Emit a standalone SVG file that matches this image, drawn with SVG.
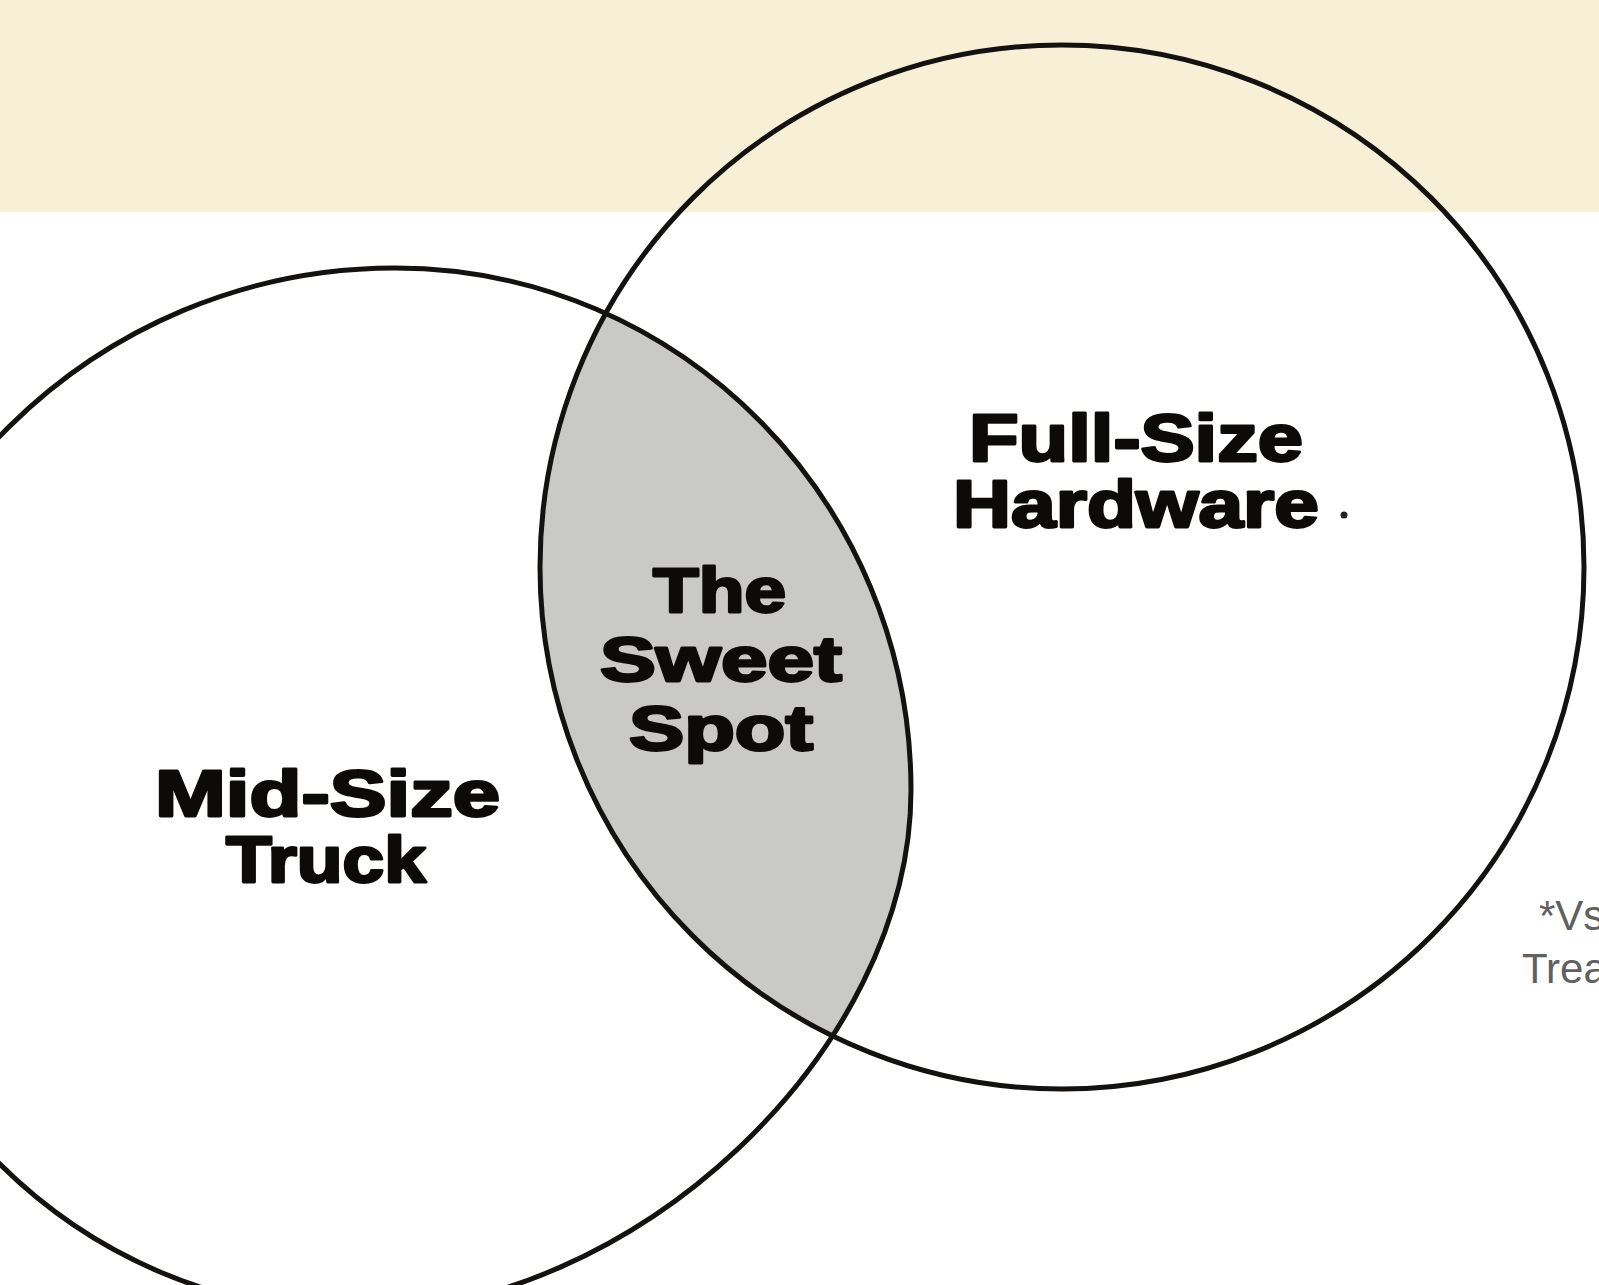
<svg xmlns="http://www.w3.org/2000/svg" width="1599" height="1285" viewBox="0 0 1599 1285">
<style>
.ring{fill:none;stroke:#141210;stroke-width:5}
.big{font-family:"Liberation Sans",Arial,sans-serif;font-weight:bold;fill:#0d0b0a;stroke:#0d0b0a;stroke-width:2.8;stroke-linejoin:round}
.note{font-family:"Liberation Sans",Arial,sans-serif;fill:#606060}
</style>
<defs>
<clipPath id="clipRight"><circle cx="1062" cy="567" r="522"/></clipPath>
<path id="midShape" d="M 395 268 C 680 268 911 502 911 790 C 911 1051 634 1312 357 1312 C 78 1312 -150 1084 -150 805 C -150 510 95 268 395 268 Z"/>
</defs>
<rect width="1599" height="1285" fill="#ffffff"/>
<rect width="1599" height="212" fill="#f7f0d7"/>
<g id="sweet-spot-fill">
<use href="#midShape" fill="#c9c9c7" clip-path="url(#clipRight)"/>
</g>
<g id="connectors"></g>
<g id="full-size-hardware">
<circle class="ring" cx="1062" cy="567" r="522"/>
<text class="big" x="969" y="461" font-size="67" textLength="334" lengthAdjust="spacingAndGlyphs">Full-Size</text>
<text class="big" x="953" y="527" font-size="67" textLength="366" lengthAdjust="spacingAndGlyphs">Hardware</text>
<circle cx="1344" cy="515" r="3.5" fill="#222"/>
</g>
<g id="mid-size-truck">
<use href="#midShape" class="ring"/>
<text class="big" x="155" y="816" font-size="64" textLength="345" lengthAdjust="spacingAndGlyphs">Mid-Size</text>
<text class="big" x="226" y="882" font-size="64" textLength="200" lengthAdjust="spacingAndGlyphs">Truck</text>
</g>
<g id="the-sweet-spot">
<text class="big" x="653" y="612" font-size="63" textLength="133" lengthAdjust="spacingAndGlyphs">The</text>
<text class="big" x="600" y="681" font-size="63" textLength="242" lengthAdjust="spacingAndGlyphs">Sweet</text>
<text class="big" x="629" y="750" font-size="63" textLength="184" lengthAdjust="spacingAndGlyphs">Spot</text>
</g>
<g id="footnote">
<text class="note" x="1539" y="930" font-size="42">*Vs</text>
<text class="note" x="1522" y="983" font-size="42">Trea</text>
</g>
</svg>
